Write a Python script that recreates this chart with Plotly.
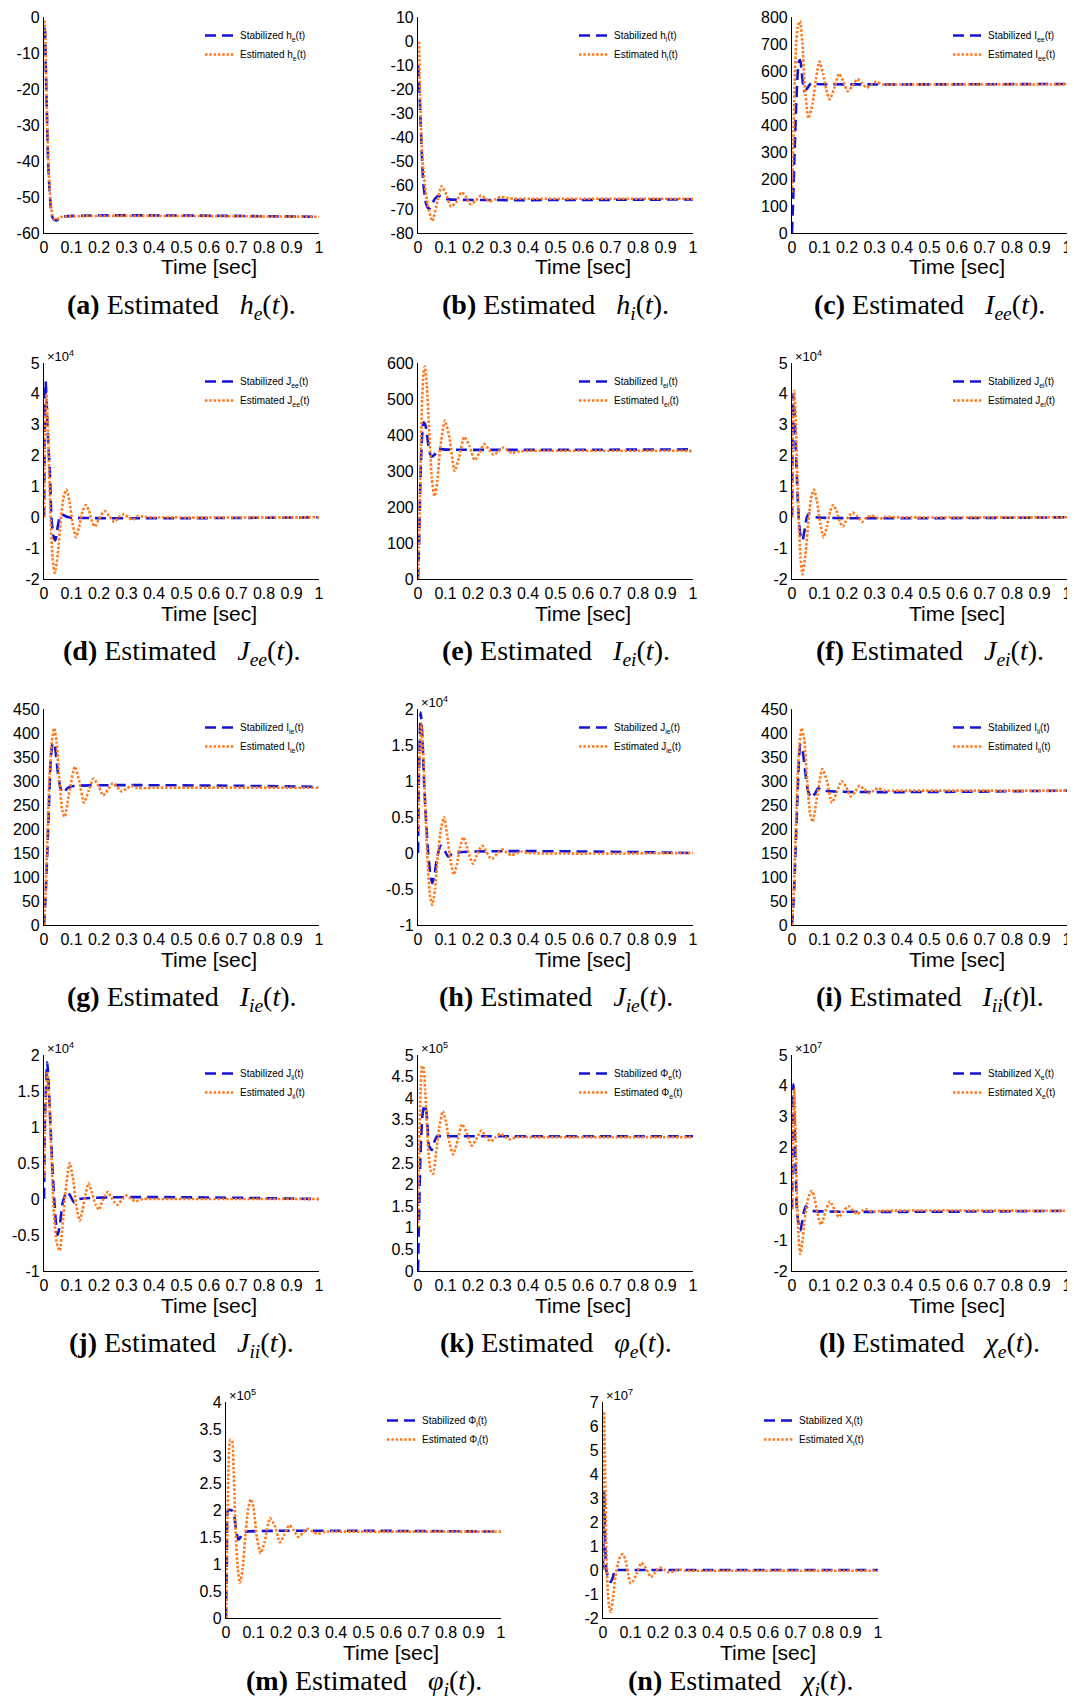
import plotly.graph_objects as go

# the page body has an 8px margin: the figure is drawn 8px in from the top-left corner
OFF = 8
W, H = 1075 - OFF, 1707 - 2 * OFF

# ---------------- data ----------------
# (a) h_e
he_ts = [0, 0.003, 0.006, 0.01, 0.015, 0.02, 0.025, 0.03, 0.035, 0.045, 0.055, 0.065, 1.0]
he_s = [-3, -3.5, -12, -25, -40, -48, -53, -55.5, -56.2, -56.5, -56, -55.5, -55.5]
he_te = [0, 0.003, 0.006, 0.01, 0.015, 0.02, 0.025, 0.03, 0.035, 0.045, 0.055, 0.065, 1.0]
he_e = [-1, -2, -10, -24, -39, -47, -52, -55, -56, -56.3, -55.8, -55.5, -55.5]

# (b) h_i
hi_ts = [0, 0.005, 0.01, 0.015, 0.02, 0.03, 0.04, 0.05, 0.06, 0.075, 0.09, 0.11, 1.0]
hi_s = [-10, -20, -35, -50, -60, -68, -70, -68.5, -66, -64.5, -65.5, -66, -66]
hi_te = [0, 0.003, 0.007, 0.012, 0.018, 0.025, 0.035, 0.052, 0.07, 0.086, 0.103, 0.12, 0.14,
         0.158, 0.175, 0.19, 0.21, 0.228, 0.245, 0.26, 0.28, 0.3, 0.33, 0.36, 1.0]
hi_e = [-5, 0, -20, -40, -52, -60, -68, -75, -67, -60.5, -64, -69, -67, -63, -65, -68, -66.5,
        -64.5, -65.5, -66.8, -66, -65, -65.6, -65.7, -65.7]

# (c) I_ee
iee_ts = [0, 0.005, 0.01, 0.015, 0.02, 0.025, 0.03, 0.035, 0.045, 0.055, 0.07, 0.09, 1]
iee_s = [0, 150, 320, 470, 580, 635, 640, 600, 525, 535, 555, 552, 552]
iee_te = [0, 0.005, 0.01, 0.015, 0.02, 0.029, 0.038, 0.046, 0.06, 0.075, 0.087, 0.1, 0.113, 0.125,
          0.137, 0.155, 0.171, 0.187, 0.203, 0.22, 0.238, 0.255, 0.27, 0.29, 0.306, 0.33, 0.4, 1]
iee_e = [150, 350, 560, 700, 760, 785, 700, 550, 425, 480, 570, 635, 590, 530, 495, 540, 590, 560,
         525, 545, 570, 555, 538, 550, 560, 550, 550, 550]

# (d) J_ee  (x 10^4)
jee_ts = [0, 0.003, 0.006, 0.01, 0.015, 0.021, 0.027, 0.034, 0.041, 0.05, 0.057, 0.063, 0.075, 0.09, 1]
jee_s = [0, 3.0, 4.4, 3.6, 2.5, 1.5, 0, -0.6, -0.75, -0.3, 0, 0.1, 0.05, 0, 0]
jee_te = [0, 0.003, 0.0085, 0.014, 0.019, 0.024, 0.031, 0.039, 0.05, 0.061, 0.072, 0.082, 0.092,
          0.104, 0.116, 0.128, 0.14, 0.152, 0.164, 0.175, 0.185, 0.2, 0.22, 0.238, 0.255, 0.272,
          0.29, 0.307, 0.323, 0.34, 0.36, 0.38, 1]
jee_e = [0, 2.5, 4.0, 3.0, 1.4, 0, -1.3, -1.8, -1.2, -0.1, 0.7, 0.9, 0.55, -0.2, -0.65, -0.3, 0.2,
         0.4, 0.2, -0.15, -0.3, -0.05, 0.2, 0.03, -0.15, 0, 0.1, 0, -0.08, 0.03, 0.02, 0, 0]

# (e) I_ei
iei_ts = [0, 0.004, 0.008, 0.012, 0.016, 0.02, 0.026, 0.033, 0.04, 0.048, 0.06, 0.075, 0.09, 1]
iei_s = [0, 100, 250, 350, 410, 435, 430, 400, 360, 340, 345, 362, 360, 360]
iei_te = [0, 0.005, 0.01, 0.015, 0.02, 0.025, 0.032, 0.04, 0.05, 0.06, 0.07, 0.08, 0.098, 0.115,
          0.133, 0.15, 0.168, 0.187, 0.206, 0.223, 0.24, 0.258, 0.275, 0.293, 0.31, 0.327, 0.343,
          0.37, 0.4, 1]
iei_e = [0, 150, 350, 500, 570, 590, 540, 420, 280, 230, 270, 360, 440, 390, 300, 340, 395, 370,
         330, 350, 375, 360, 345, 355, 365, 357, 350, 355, 356, 356]

# (f) J_ei  (x 10^4)
jei_ts = [0, 0.002, 0.005, 0.009, 0.014, 0.02, 0.026, 0.032, 0.038, 0.046, 0.054, 0.062, 0.075, 0.09, 1]
jei_s = [0, 2.5, 4.0, 3.4, 2.2, 0.8, -0.2, -0.65, -0.75, -0.4, 0, 0.12, 0.05, 0, 0]
jei_te = [0, 0.003, 0.008, 0.014, 0.019, 0.024, 0.031, 0.038, 0.049, 0.06, 0.071, 0.08, 0.09,
          0.103, 0.115, 0.127, 0.139, 0.15, 0.162, 0.174, 0.185, 0.2, 0.22, 0.238, 0.255, 0.272,
          0.29, 0.307, 0.32, 0.34, 0.36, 0.38, 1]
jei_e = [0, 2.6, 4.1, 3.1, 1.4, 0, -1.3, -1.85, -1.2, -0.1, 0.7, 0.9, 0.55, -0.2, -0.65, -0.3, 0.2,
         0.4, 0.2, -0.15, -0.3, -0.05, 0.15, 0.03, -0.15, 0, 0.05, 0, -0.05, 0.02, 0.01, 0, 0]

# (g) I_ie
iie_ts = [0, 0.005, 0.01, 0.015, 0.02, 0.025, 0.032, 0.04, 0.05, 0.06, 0.07, 0.085, 0.1, 1]
iie_s = [0, 50, 120, 200, 280, 350, 380, 370, 320, 285, 275, 285, 289, 288]
iie_te = [0, 0.005, 0.01, 0.015, 0.02, 0.028, 0.037, 0.046, 0.056, 0.066, 0.075, 0.093, 0.112,
          0.128, 0.145, 0.163, 0.18, 0.198, 0.215, 0.233, 0.25, 0.267, 0.283, 0.3, 0.318, 0.34, 0.4, 1]
iie_e = [0, 60, 140, 230, 310, 380, 410, 380, 300, 240, 225, 280, 330, 300, 255, 280, 305, 290,
         270, 282, 295, 287, 278, 284, 290, 285, 286, 286]

# (h) J_ie  (x 10^4)
jie_ts = [0, 0.004, 0.01, 0.016, 0.022, 0.03, 0.037, 0.045, 0.052, 0.06, 0.07, 0.083, 0.095, 0.11, 0.13, 1]
jie_s = [0, 1.2, 1.95, 1.6, 1.0, 0.4, 0, -0.3, -0.42, -0.3, -0.05, 0.1, 0.05, -0.05, 0, 0]
jie_te = [0, 0.004, 0.012, 0.02, 0.028, 0.036, 0.044, 0.052, 0.062, 0.073, 0.084, 0.095, 0.106,
          0.118, 0.13, 0.142, 0.153, 0.165, 0.177, 0.188, 0.2, 0.212, 0.223, 0.235, 0.247, 0.258,
          0.27, 0.29, 0.307, 0.325, 0.34, 0.36, 0.375, 0.4, 1]
jie_e = [0.3, 1.2, 1.8, 1.3, 0.5, -0.2, -0.6, -0.72, -0.5, 0, 0.35, 0.5, 0.25, -0.1, -0.3, -0.15,
         0.08, 0.22, 0.1, -0.05, -0.15, -0.05, 0.05, 0.1, 0.03, -0.05, -0.08, 0, 0.05, 0, -0.03,
         0, 0.02, 0, 0]

# (i) I_ii
iii_ts = [0, 0.005, 0.01, 0.015, 0.02, 0.025, 0.03, 0.038, 0.048, 0.058, 0.07, 0.085, 0.095, 0.11, 1]
iii_s = [0, 40, 110, 190, 270, 340, 375, 365, 320, 280, 265, 275, 285, 280, 280]
iii_te = [0, 0.005, 0.01, 0.015, 0.02, 0.027, 0.035, 0.045, 0.055, 0.065, 0.075, 0.092, 0.11,
          0.127, 0.145, 0.162, 0.18, 0.197, 0.213, 0.23, 0.245, 0.263, 0.28, 0.297, 0.313, 0.335, 0.4, 1]
iii_e = [0, 50, 130, 220, 300, 375, 410, 385, 300, 235, 215, 270, 325, 300, 255, 275, 300, 288,
         268, 278, 290, 283, 275, 280, 285, 280, 280, 280]

# (j) J_ii  (x 10^4)
jii_ts = [0, 0.004, 0.012, 0.018, 0.025, 0.031, 0.037, 0.044, 0.05, 0.058, 0.068, 0.083, 0.095, 0.11, 0.13, 1]
jii_s = [0, 1.2, 1.9, 1.5, 0.9, 0.4, 0, -0.35, -0.5, -0.35, -0.05, 0.1, 0.05, -0.05, 0, 0]
jii_te = [0, 0.004, 0.012, 0.02, 0.028, 0.036, 0.046, 0.057, 0.067, 0.078, 0.093, 0.105, 0.118,
          0.13, 0.14, 0.152, 0.162, 0.175, 0.188, 0.2, 0.21, 0.222, 0.232, 0.245, 0.257, 0.268,
          0.285, 0.3, 0.317, 0.333, 0.36, 0.4, 1]
jii_e = [0.3, 1.1, 1.75, 1.3, 0.5, -0.2, -0.6, -0.72, -0.4, 0.1, 0.5, 0.3, -0.1, -0.3, -0.15, 0.08,
         0.22, 0.08, -0.08, -0.15, -0.05, 0.05, 0.1, 0.02, -0.05, -0.08, 0, 0.05, 0, -0.03, 0, 0, 0]

# (k) Phi_e  (x 10^5)
phe_ts = [0, 0.003, 0.008, 0.013, 0.018, 0.025, 0.032, 0.04, 0.05, 0.06, 0.07, 0.085, 1]
phe_s = [0, 1.0, 2.5, 3.3, 3.7, 3.85, 3.6, 2.9, 2.8, 3.0, 3.12, 3.12, 3.12]
phe_te = [0, 0.005, 0.01, 0.015, 0.02, 0.026, 0.033, 0.04, 0.047, 0.055, 0.065, 0.077, 0.09, 0.1,
          0.115, 0.128, 0.145, 0.16, 0.177, 0.195, 0.212, 0.23, 0.248, 0.265, 0.283, 0.3, 0.317,
          0.333, 0.36, 0.4, 1]
phe_e = [1.0, 3.0, 4.3, 4.75, 4.7, 4.2, 3.3, 2.6, 2.3, 2.25, 2.7, 3.3, 3.7, 3.5, 2.95, 2.7, 3.05,
         3.4, 3.2, 2.9, 3.05, 3.25, 3.1, 3.0, 3.1, 3.18, 3.1, 3.05, 3.1, 3.1, 3.1]

# (l) X_e  (x 10^7)
xe_ts = [0, 0.003, 0.005, 0.01, 0.018, 0.024, 0.03, 0.036, 0.043, 0.05, 0.06, 0.075, 1]
xe_s = [0, 3.0, 4.05, 2.5, 0, -0.5, -0.7, -0.45, -0.1, 0.1, 0, -0.05, -0.05]
xe_te = [0, 0.004, 0.008, 0.013, 0.018, 0.024, 0.03, 0.037, 0.045, 0.055, 0.064, 0.073, 0.082,
         0.09, 0.097, 0.105, 0.113, 0.122, 0.138, 0.154, 0.17, 0.188, 0.205, 0.222, 0.238, 0.255,
         0.27, 0.29, 0.33, 1]
xe_e = [0, 2.5, 3.9, 2.5, 0.5, -0.9, -1.45, -1.1, -0.4, 0.2, 0.5, 0.6, 0.35, 0, -0.3, -0.5, -0.35,
        -0.05, 0.25, 0, -0.25, -0.05, 0.1, -0.05, -0.15, -0.05, 0, -0.08, -0.05, -0.05]

# (m) Phi_i  (x 10^5)
phi_ts = [0, 0.003, 0.008, 0.016, 0.024, 0.03, 0.036, 0.045, 0.053, 0.06, 0.07, 1]
phi_s = [0, 1.0, 2.0, 2.0, 1.98, 1.9, 1.65, 1.45, 1.5, 1.58, 1.6, 1.6]
phi_te = [0, 0.004, 0.008, 0.012, 0.016, 0.022, 0.028, 0.035, 0.043, 0.051, 0.06, 0.07, 0.08, 0.09,
          0.1, 0.112, 0.126, 0.14, 0.16, 0.178, 0.196, 0.213, 0.23, 0.247, 0.263, 0.28, 0.296,
          0.315, 0.333, 0.36, 0.4, 1]
phi_e = [0, 1.3, 2.6, 3.2, 3.3, 3.28, 2.7, 1.6, 0.9, 0.65, 0.9, 1.5, 2.0, 2.2, 2.05, 1.5, 1.2, 1.4,
         1.85, 1.7, 1.4, 1.55, 1.72, 1.62, 1.5, 1.58, 1.65, 1.6, 1.56, 1.6, 1.6, 1.6]

# (n) X_i  (x 10^7)
xi_ts = [0, 0.002, 0.004, 0.008, 0.012, 0.02, 0.028, 0.036, 0.043, 0.05, 1]
xi_s = [0, 2.0, 3.3, 1.2, 0, -0.35, -0.5, -0.3, 0, 0, 0]
xi_te = [0, 0.002, 0.004, 0.008, 0.012, 0.017, 0.022, 0.028, 0.036, 0.045, 0.055, 0.064, 0.073,
         0.083, 0.092, 0.1, 0.11, 0.122, 0.14, 0.157, 0.174, 0.19, 0.207, 0.224, 0.24, 0.257,
         0.274, 0.3, 0.35, 1]
xi_e = [0, 4.0, 6.6, 4.0, 1.0, -0.8, -1.5, -1.75, -1.2, -0.3, 0.3, 0.6, 0.65, 0.35, -0.2, -0.55,
        -0.45, -0.15, 0.3, 0.05, -0.3, -0.1, 0.1, 0, -0.1, -0.05, 0.02, -0.03, -0.03, -0.03]

x_ticks = [0, 0.1, 0.2, 0.3, 0.4, 0.5, 0.6, 0.7, 0.8, 0.9, 1]
x_ticktext = ["0", "0.1", "0.2", "0.3", "0.4", "0.5", "0.6", "0.7", "0.8", "0.9", "1"]

# panel definitions: letter, data, y ticks, exponent, legend symbol, caption symbol
panels = [
    ("a", he_ts, he_s, he_te, he_e, [-60, -50, -40, -30, -20, -10, 0], None,
     "h<sub>e</sub>", "<i>h<sub>e</sub></i>(<i>t</i>)."),
    ("b", hi_ts, hi_s, hi_te, hi_e, [-80, -70, -60, -50, -40, -30, -20, -10, 0, 10], None,
     "h<sub>i</sub>", "<i>h<sub>i</sub></i>(<i>t</i>)."),
    ("c", iee_ts, iee_s, iee_te, iee_e, [0, 100, 200, 300, 400, 500, 600, 700, 800], None,
     "I<sub>ee</sub>", "<i>I<sub>ee</sub></i>(<i>t</i>)."),
    ("d", jee_ts, jee_s, jee_te, jee_e, [-2, -1, 0, 1, 2, 3, 4, 5], 4,
     "J<sub>ee</sub>", "<i>J<sub>ee</sub></i>(<i>t</i>)."),
    ("e", iei_ts, iei_s, iei_te, iei_e, [0, 100, 200, 300, 400, 500, 600], None,
     "I<sub>ei</sub>", "<i>I<sub>ei</sub></i>(<i>t</i>)."),
    ("f", jei_ts, jei_s, jei_te, jei_e, [-2, -1, 0, 1, 2, 3, 4, 5], 4,
     "J<sub>ei</sub>", "<i>J<sub>ei</sub></i>(<i>t</i>)."),
    ("g", iie_ts, iie_s, iie_te, iie_e, [0, 50, 100, 150, 200, 250, 300, 350, 400, 450], None,
     "I<sub>ie</sub>", "<i>I<sub>ie</sub></i>(<i>t</i>)."),
    ("h", jie_ts, jie_s, jie_te, jie_e, [-1, -0.5, 0, 0.5, 1, 1.5, 2], 4,
     "J<sub>ie</sub>", "<i>J<sub>ie</sub></i>(<i>t</i>)."),
    ("i", iii_ts, iii_s, iii_te, iii_e, [0, 50, 100, 150, 200, 250, 300, 350, 400, 450], None,
     "I<sub>ii</sub>", "<i>I<sub>ii</sub></i>(<i>t</i>)l."),
    ("j", jii_ts, jii_s, jii_te, jii_e, [-1, -0.5, 0, 0.5, 1, 1.5, 2], 4,
     "J<sub>ii</sub>", "<i>J<sub>ii</sub></i>(<i>t</i>)."),
    ("k", phe_ts, phe_s, phe_te, phe_e, [0, 0.5, 1, 1.5, 2, 2.5, 3, 3.5, 4, 4.5, 5], 5,
     "Φ<sub>e</sub>", "<i>φ<sub>e</sub></i>(<i>t</i>)."),
    ("l", xe_ts, xe_s, xe_te, xe_e, [-2, -1, 0, 1, 2, 3, 4, 5], 7,
     "X<sub>e</sub>", "<i>χ<sub>e</sub></i>(<i>t</i>)."),
    ("m", phi_ts, phi_s, phi_te, phi_e, [0, 0.5, 1, 1.5, 2, 2.5, 3, 3.5, 4], 5,
     "Φ<sub>i</sub>", "<i>φ<sub>i</sub></i>(<i>t</i>)."),
    ("n", xi_ts, xi_s, xi_te, xi_e, [-2, -1, 0, 1, 2, 3, 4, 5, 6, 7], 7,
     "X<sub>i</sub>", "<i>χ<sub>i</sub></i>(<i>t</i>)."),
]

# ---------------- layout geometry (pixels in the 1075x1707 window) ----------------
col_x = [44, 418, 792]
row_y = [17, 363, 709, 1055, 1402]
PW, PH = 275, 216
boxes = []
for r in range(4):
    for c in range(3):
        boxes.append((col_x[c], row_y[r]))
boxes.append((226, row_y[4]))
boxes.append((603, row_y[4]))

BLUE = "#1414d8"
ORANGE = "#ff7a1e"
SANS = "Liberation Sans, Arial, sans-serif"
SERIF = "Liberation Serif, Times New Roman, serif"


def fx(px):
    return (px - OFF) / W


def fy(py):
    return 1 - (py - OFF) / H


def fmt(v):
    return "%g" % v


fig = go.Figure()
layout = dict(width=W, height=H, margin=dict(l=0, r=0, t=0, b=0, autoexpand=False),
              paper_bgcolor="white", plot_bgcolor="white", showlegend=True,
              font=dict(family=SANS, color="black"))
annotations = []

for i, (letter, ts, ys, te, ye, yt, expo, sym, capsym) in enumerate(panels):
    n = i + 1
    sfx = "" if n == 1 else str(n)
    x0, y0 = boxes[i]
    xa = "x" + sfx
    ya = "y" + sfx
    lg = "legend" + sfx
    fig.add_trace(go.Scatter(x=ts, y=ys, mode="lines", xaxis=xa, yaxis=ya, legend=lg,
                             name="Stabilized " + sym + "(t)",
                             line=dict(color=BLUE, width=2.6, dash="11px,6px",
                                       shape="spline", smoothing=0.6)))
    fig.add_trace(go.Scatter(x=te, y=ye, mode="lines", xaxis=xa, yaxis=ya, legend=lg,
                             name="Estimated " + sym + "(t)",
                             line=dict(color=ORANGE, width=2.6, dash="2.5px,1.8px",
                                       shape="spline", smoothing=0.6)))
    layout["xaxis" + sfx] = dict(domain=[fx(x0), fx(x0 + PW)], anchor=ya, range=[0, 1],
                                 tickvals=x_ticks, ticktext=x_ticktext, showgrid=False,
                                 zeroline=False, showline=True, linecolor="black", linewidth=1.2,
                                 ticks="", automargin=False,
                                 tickfont=dict(size=16, family=SANS, color="black"))
    layout["yaxis" + sfx] = dict(domain=[fy(y0 + PH), fy(y0)], anchor=xa, range=[yt[0], yt[-1]],
                                 tickvals=yt, ticktext=[fmt(v) for v in yt], showgrid=False,
                                 zeroline=False, showline=True, linecolor="black", linewidth=1.2,
                                 ticks="", automargin=False,
                                 tickfont=dict(size=16, family=SANS, color="black"))
    layout[lg] = dict(x=fx(x0 + 156), y=fy(y0 + 4), xanchor="left", yanchor="top",
                      bgcolor="rgba(0,0,0,0)", borderwidth=0, tracegroupgap=0,
                      itemwidth=30, font=dict(size=10, family=SANS, color="black"))
    # x label
    annotations.append(dict(text="Time [sec]", x=fx(x0 + 165), y=fy(y0 + 250), xref="paper",
                            yref="paper", xanchor="center", yanchor="middle", showarrow=False,
                            font=dict(size=21, family=SANS, color="black")))
    # caption
    cap_dy = 289 if y0 < 1400 else 280
    annotations.append(dict(text="<b>(" + letter + ")</b> Estimated   " + capsym,
                            x=fx(x0 + PW / 2), y=fy(y0 + cap_dy), xref="paper", yref="paper",
                            xanchor="center", yanchor="middle", showarrow=False,
                            font=dict(size=28, family=SERIF, color="black")))
    if expo is not None:
        annotations.append(dict(text="×10<sup>%d</sup>" % expo, x=fx(x0 + 1), y=fy(y0 + 3),
                                xref="paper", yref="paper", xanchor="left", yanchor="bottom",
                                showarrow=False, font=dict(size=13, family=SANS, color="black")))

layout["annotations"] = annotations
fig.update_layout(**layout)
fig.write_html("out.html")
